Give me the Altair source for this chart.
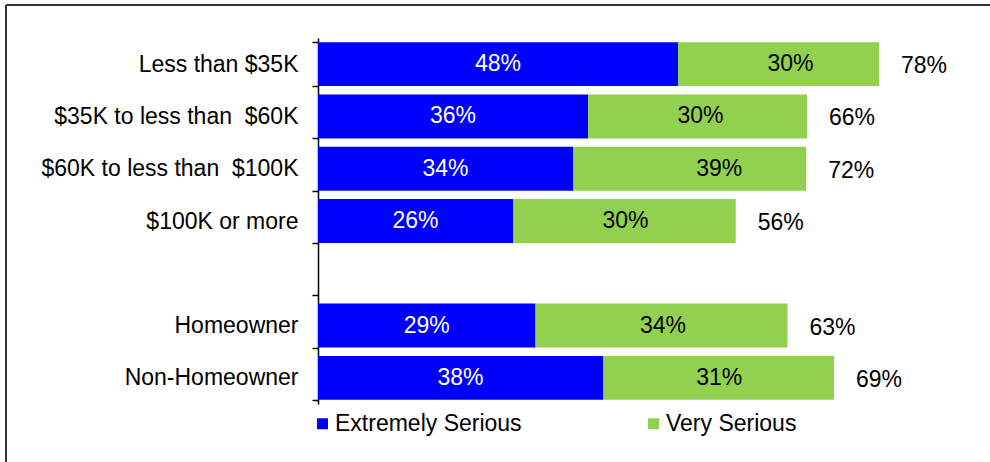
import altair as alt
import pandas as pd

categories = ["Less than $35K", "$35K to less than\u00a0 $60K", "$60K to less than\u00a0 $100K",
              "$100K or more", "Homeowner", "Non-Homeowner"]
axis_order = ["Less than $35K", "$35K to less than\u00a0 $60K", "$60K to less than\u00a0 $100K",
              "$100K or more", " ", "Homeowner", "Non-Homeowner"]
extremely = [48, 36, 34, 26, 29, 38]
very_labels = [30, 30, 39, 30, 34, 31]
very_drawn = [26.8, 29.2, 31.1, 29.7, 33.6, 30.8]
totals = [78, 66, 72, 56, 63, 69]
series = ["Extremely Serious", "Very Serious"]
colors = ["#0000FF", "#92D050"]

rows = []
for c, e, vl, vd, t in zip(categories, extremely, very_labels, very_drawn, totals):
    rows.append(dict(cat=c, series=series[0], start=0, end=e, mid=e / 2,
                     label=f"{e}%", total=f"{t}%", barend=e + vd))
    rows.append(dict(cat=c, series=series[1], start=e, end=e + vd, mid=e + vl / 2,
                     label=f"{vl}%", total=f"{t}%", barend=e + vd))
df = pd.DataFrame(rows)

FONT = "Liberation Sans"
FS = 23
yenc = alt.Y("cat:N", sort=axis_order,
             scale=alt.Scale(domain=axis_order, paddingInner=0.16, paddingOuter=0.08),
             axis=alt.Axis(title=None, orient="left", domainColor="black", domainWidth=1.5,
                           tickColor="black", tickWidth=1.5, tickSize=6, tickBand="extent",
                           labelFontSize=FS, labelColor="black", labelFont=FONT,
                           labelPadding=14, labelLimit=400))
xscale = alt.Scale(domain=[0, 88], nice=False, zero=True)

base = alt.Chart(df)

bars = base.mark_bar().encode(
    y=yenc,
    x=alt.X("start:Q", scale=xscale, axis=None),
    x2="end:Q",
    color=alt.Color("series:N", scale=alt.Scale(domain=series, range=colors),
                    legend=alt.Legend(title=None, orient="none", legendX=-7, legendY=374,
                                      direction="horizontal", symbolType="square",
                                      symbolSize=121, symbolStrokeWidth=0, symbolOpacity=1,
                                      labelFontSize=FS, labelFont=FONT, labelColor="black",
                                      labelOffset=1, columnPadding=120, labelLimit=400)),
)

txt_blue = base.transform_filter(alt.datum.series == series[0]).mark_text(
    color="white", fontSize=FS, font=FONT, align="center", baseline="middle"
).encode(y=alt.Y("cat:N", sort=axis_order), x=alt.X("mid:Q", scale=xscale), text="label:N")

txt_green = base.transform_filter(alt.datum.series == series[1]).mark_text(
    color="black", fontSize=FS, font=FONT, align="center", baseline="middle"
).encode(y=alt.Y("cat:N", sort=axis_order), x=alt.X("mid:Q", scale=xscale), text="label:N")

txt_total = base.transform_filter(alt.datum.series == series[1]).mark_text(
    color="black", fontSize=FS, font=FONT, align="left", baseline="middle", dx=22, dy=2
).encode(y=alt.Y("cat:N", sort=axis_order), x=alt.X("barend:Q", scale=xscale), text="total:N")

frame_top = alt.Chart(pd.DataFrame({"a": [0]})).mark_rule(color="#333333", strokeWidth=2).encode(
    x=alt.value(-312), x2=alt.value(672), y=alt.value(-33))
frame_left = alt.Chart(pd.DataFrame({"a": [0]})).mark_rule(color="#333333", strokeWidth=2).encode(
    x=alt.value(-312), y=alt.value(-33), y2=alt.value(424))

chart = alt.layer(bars, txt_blue, txt_green, txt_total, frame_top, frame_left).properties(
    width=660, height=366,
    autosize=alt.AutoSizeParams(type="none"),
    padding={"left": 318, "top": 38, "right": 12, "bottom": 58},
    background="white",
).configure_view(stroke=None)

chart.save("out.html", embed_options={"renderer": "svg", "actions": False})
